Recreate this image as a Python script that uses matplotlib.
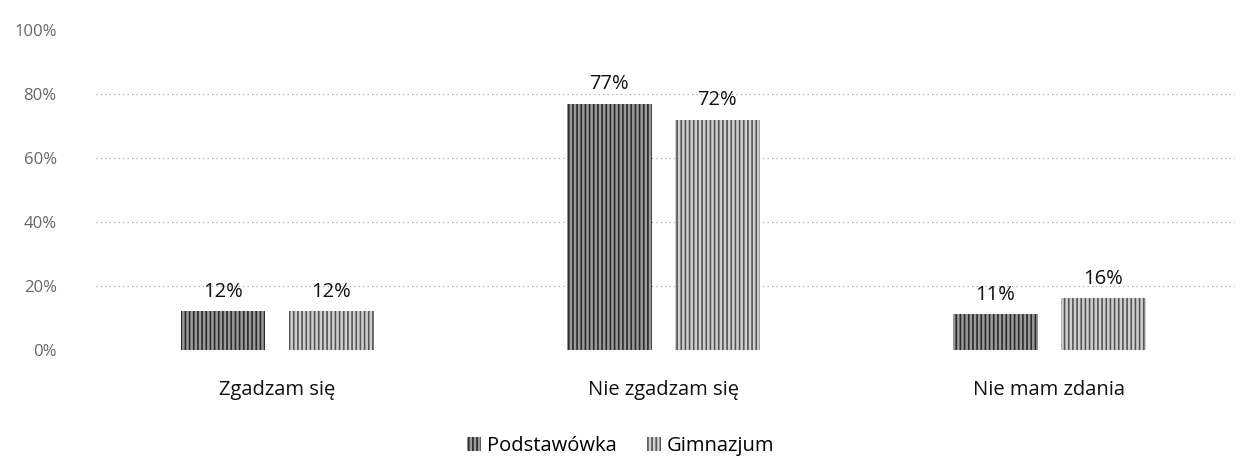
import numpy as np
import matplotlib
matplotlib.use("Agg")
import matplotlib.pyplot as plt

categories = ["Zgadzam się", "Nie zgadzam się", "Nie mam zdania"]
podstawowka = [12, 77, 11]
gimnazjum = [12, 72, 16]
series_names = ["Podstawówka", "Gimnazjum"]
y_ticks = [0, 20, 40, 60, 80, 100]

plt.rcParams["font.family"] = ["Open Sans", "DejaVu Sans"]
plt.rcParams["hatch.linewidth"] = 1.2

fig = plt.figure(figsize=(12.41, 4.63), dpi=100)
ax = fig.add_axes([0.077, 0.245, 0.918, 0.69])

x = np.arange(len(categories))
w = 0.22
off = 0.14

b1 = ax.bar(x - off, podstawowka, w, color="#9a9a9a", edgecolor="#2a2a2a",
            hatch="||||", linewidth=0, label=series_names[0], zorder=3)
b2 = ax.bar(x + off, gimnazjum, w, color="#d0d0d0", edgecolor="#555555",
            hatch="||||", linewidth=0, label=series_names[1], zorder=3)

for bars, vals in ((b1, podstawowka), (b2, gimnazjum)):
    for rect, v in zip(bars, vals):
        ax.text(rect.get_x() + rect.get_width() / 2, v + 3, f"{v}%",
                ha="center", va="bottom", fontsize=14.5, color="#111111")

ax.set_ylim(0, 100)
ax.set_xlim(-0.47, 2.48)
ax.set_yticks(y_ticks)
ax.set_yticklabels([f"{t}%" for t in y_ticks], color="#666666", fontsize=12)
ax.set_xticks(x)
ax.set_xticklabels(categories, fontsize=14.5, color="#111111")
ax.tick_params(axis="both", length=0)
ax.tick_params(axis="x", pad=22)
ax.tick_params(axis="y", pad=28)
# dotted gridlines only up to 80%
for t in y_ticks[1:-1]:
    ax.axhline(t, linestyle=(0, (1, 3)), color="#999999", linewidth=0.8, zorder=1)
for s in ax.spines.values():
    s.set_visible(False)

fig.legend(handles=[b1, b2], loc="lower center", ncol=2, frameon=False,
           fontsize=14.5, bbox_to_anchor=(0.5, -0.025), handlelength=0.7,
           handleheight=0.7, columnspacing=1.5, handletextpad=0.3)

fig.savefig("out.png", dpi=100)
